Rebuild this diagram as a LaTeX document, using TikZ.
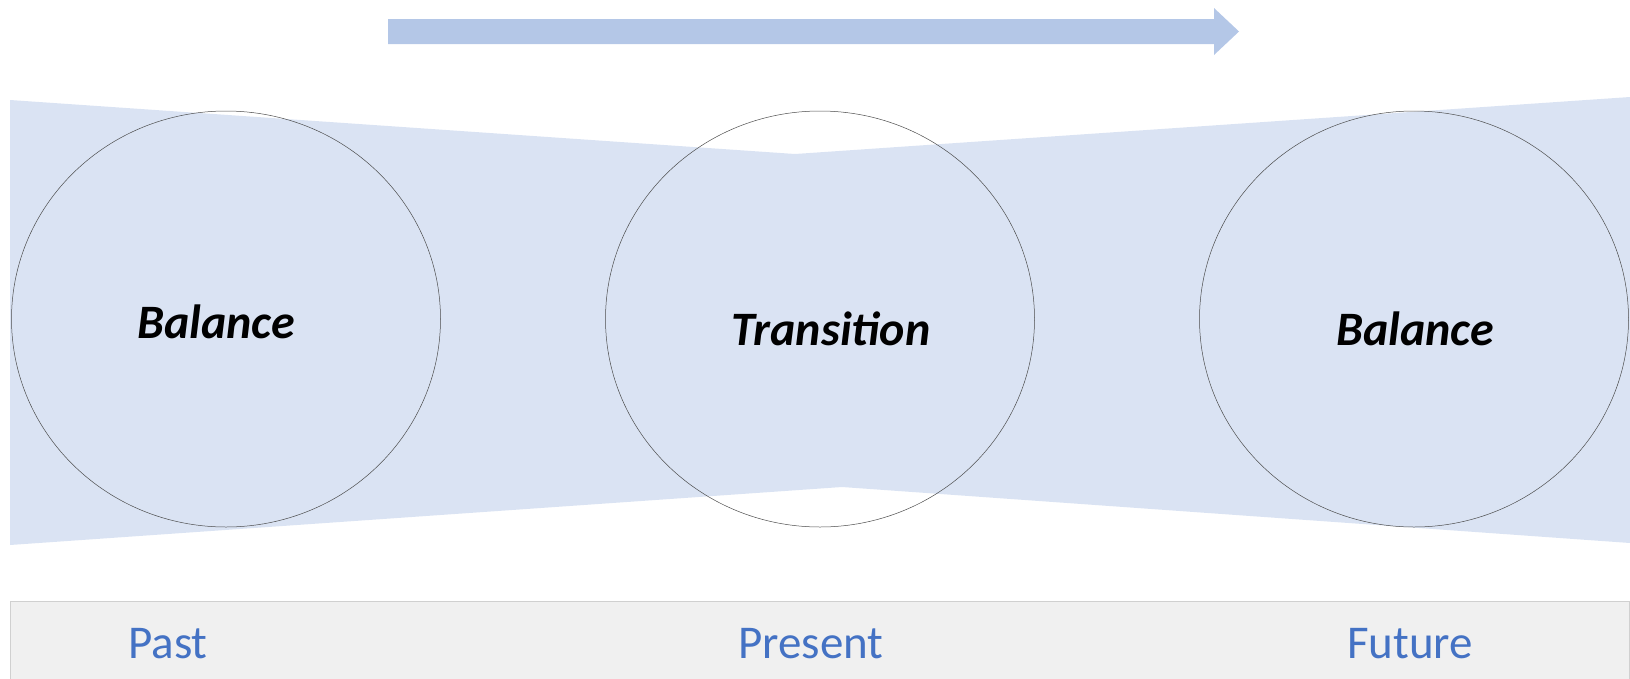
\documentclass[tikz,border=0pt]{standalone}
\usepackage{fontspec}
\setmainfont{Carlito}
\usetikzlibrary{shapes.geometric, positioning}
\definecolor{bandblue}{RGB}{218, 227, 243}
\definecolor{arrowblue}{RGB}{180, 199, 231}
\definecolor{timeblue}{RGB}{68, 114, 196}
\definecolor{barfill}{RGB}{240, 240, 240}
\definecolor{bardraw}{RGB}{208, 208, 208}

\begin{document}
\begin{tikzpicture}[x=1pt, y=-1pt,
    phase/.style={ellipse, draw=black!70, line width=0.5pt,
                  minimum width=429pt, minimum height=416pt, inner sep=0pt},
    state/.style={font=\fontsize{48}{57}\selectfont\bfseries\itshape, anchor=base},
    era/.style={font=\fontsize{47}{56}\selectfont, text=timeblue, anchor=base}
]
\useasboundingbox (0,0) rectangle (1630,678);

% Band
\fill[bandblue] (10,100) -- (795,154) -- (1630,97) -- (1630,543)
    -- (842,487) -- (10,545) -- cycle;

% Time arrow
\fill[arrowblue] (388,19) -- (1214,19) -- (1214,8) -- (1239,31.5)
    -- (1214,55) -- (1214,44) -- (388,44) -- cycle;

% Circles
\node[phase] (past) at (226,319) {};
\node[phase] (now)  at (820,319) {};
\node[phase] (next) at (1414,319) {};

% States
\node[state] (balpast) at (216,338) {Balance};
\node[state] (trans)   at (831,345) {Transition};
\node[state] (balnext) at (1415,345) {Balance};

% Time bar
\draw[bardraw, fill=barfill] (10,601) rectangle (1629,690);
\node[era] (tpast) at (168,658) {Past};
\node[era] (tnow)  at (811,658) {Present};
\node[era] (tnext) at (1410,658) {Future};

\end{tikzpicture}
\end{document}
